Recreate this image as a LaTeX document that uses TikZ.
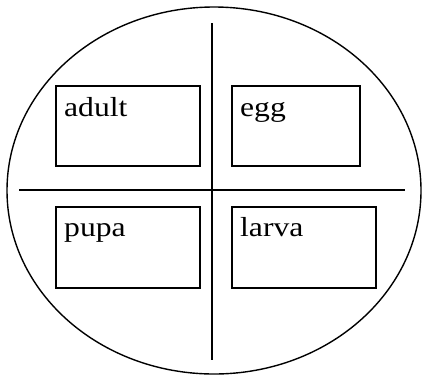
\documentclass[tikz,border=0pt]{standalone}
\usepackage{fontspec}
\setmainfont{Liberation Serif}
\usetikzlibrary{positioning}
\begin{document}
\begin{tikzpicture}[x=1pt,y=-1pt,
  stagebox/.style={draw,line width=1.8pt,rectangle,inner sep=0pt,anchor=north west},
  lbl/.style={anchor=base west,inner sep=0pt,font=\fontsize{27.5}{27.5}\selectfont},
  divider/.style={line width=1.8pt},
  outline/.style={line width=1.4pt}]
\useasboundingbox (0,0) rectangle (422,375);
\draw[outline] (214,190.5) ellipse [x radius=207, y radius=183.5];
\coordinate (vt) at (212,23);
\coordinate (vb) at (212,360);
\coordinate (hl) at (19,190);
\coordinate (hr) at (405,190);
\draw[divider] (vt) -- (vb);
\draw[divider] (hl) -- (hr);
\node[stagebox,minimum width=144pt,minimum height=80pt] (adult) at (55,85) {};
\node[stagebox,minimum width=128pt,minimum height=80pt] (egg) at (231,85) {};
\node[stagebox,minimum width=144pt,minimum height=81pt] (pupa) at (55,206) {};
\node[stagebox,minimum width=144pt,minimum height=81pt] (larva) at (231,206) {};
\node[lbl] at ([shift={(9,31)}]adult.north west) {\scalebox{1.15}[1]{adult}};
\node[lbl] at ([shift={(9,31)}]egg.north west) {\scalebox{1.15}[1]{egg}};
\node[lbl] at ([shift={(9,30)}]pupa.north west) {\scalebox{1.15}[1]{pupa}};
\node[lbl] at ([shift={(9,30)}]larva.north west) {\scalebox{1.15}[1]{larva}};
\end{tikzpicture}
\end{document}
